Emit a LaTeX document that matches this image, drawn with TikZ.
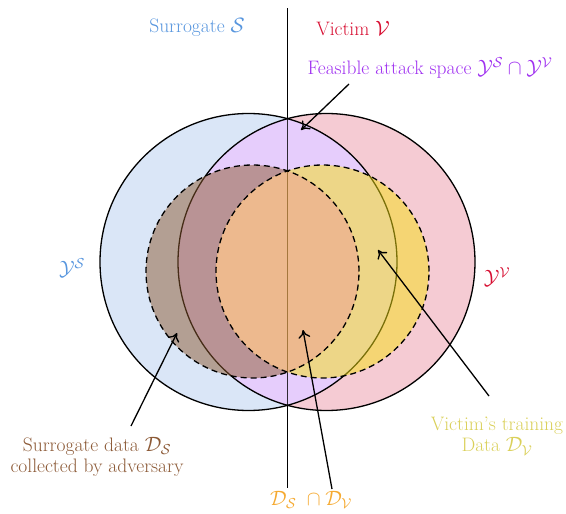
\documentclass[tikz,border=0pt]{standalone}
\usetikzlibrary{arrows.meta}
\definecolor{fblue}{RGB}{218,230,247}
\definecolor{fpink}{RGB}{245,203,211}
\definecolor{flav}{RGB}{230,205,252}
\definecolor{fbrown}{RGB}{141,90,48}
\definecolor{fyellow}{RGB}{245,224,20}
\definecolor{forange}{RGB}{243,172,69}
\definecolor{cblue}{RGB}{88,150,222}
\definecolor{cred}{RGB}{215,15,50}
\definecolor{cpurple}{RGB}{160,50,240}
\definecolor{cbrown}{RGB}{140,90,55}
\definecolor{cyellow}{RGB}{218,208,90}
\definecolor{corange}{RGB}{245,170,50}
\tikzset{
  outline/.style={draw=black, line width=1.3pt},
  dset/.style={draw=black, line width=1.3pt, dash pattern=on 6pt off 4pt},
  pointer/.style={draw=black, line width=1.3pt, -{Computer Modern Rightarrow[length=8pt,width=12pt]}},
  lbl/.style={inner sep=1pt, align=center}
}
\begin{document}
\begin{tikzpicture}[x=1pt,y=-1pt,font=\fontsize{19.5}{21.5}\selectfont]
\useasboundingbox (0,0) rectangle (566,514);
\def\LS{(248.5,262) circle[radius=148.5pt]}
\def\RV{(326.5,262) circle[radius=148.5pt]}
\def\DS{(252.5,271.5) circle[radius=106.5pt]}
\def\DV{(322.5,271.5) circle[radius=106.5pt]}
% base fills
\fill[fblue] \LS;
\fill[fpink] \RV;
\begin{scope}
  \clip \LS;
  \fill[flav] \RV;
\end{scope}
% vertical divider
\coordinate (vtop) at (287.5,8);
\coordinate (vbot) at (287.5,488);
\draw[line width=1.4pt] (vtop) -- (vbot);
\begin{scope}
  \clip \LS;
  \clip \RV;
  \draw[line width=1.4pt, black!80!flav] (vtop) -- (vbot);
\end{scope}
% big circle outlines
\draw[outline] \LS;
\draw[outline] \RV;
% data sets
\begin{scope}
  \clip \DS;
  \fill[fbrown, opacity=0.5, even odd rule] \DS \DV;
\end{scope}
\begin{scope}
  \clip \DV;
  \fill[fyellow, opacity=0.5, even odd rule] \DS \DV;
\end{scope}
\begin{scope}
  \clip \DS;
  \fill[forange, opacity=0.6] \DV;
\end{scope}
\draw[dset] \DS;
\draw[dset] \DV;
% labels
\node[lbl, text=cblue] (surr) at (197,27) {Surrogate $\mathcal{S}$};
\node[lbl, text=cred] (vict) at (353,29) {Victim $\mathcal{V}$};
\node[lbl, text=cpurple] (feas) at (430,68) {Feasible attack space $\mathcal{Y}^{\mathcal{S}}\cap\mathcal{Y}^{\mathcal{V}}$};
\node[lbl, text=cblue] (ys) at (72,268) {$\mathcal{Y}^{\mathcal{S}}$};
\node[lbl, text=cred] (yv) at (497,277) {$\mathcal{Y}^{\mathcal{V}}$};
\node[lbl, text=cbrown] (sdata) at (97,457) {Surrogate data $\mathcal{D}_{\mathcal{S}}$\\collected by adversary};
\node[lbl, text=cyellow] (vdata) at (497,436) {Victim's training\\Data $\mathcal{D}_{\mathcal{V}}$};
\node[lbl, text=corange] (inter) at (311,500) {$\mathcal{D}_{\mathcal{S}}\;\cap\mathcal{D}_{\mathcal{V}}$};
% arrows
\coordinate (fa) at (349,84);
\coordinate (fb) at (301,130);
\coordinate (sa) at (131,426);
\coordinate (sb) at (177,333);
\coordinate (ia) at (332,489);
\coordinate (ib) at (303,330);
\coordinate (va) at (489,396);
\coordinate (vb) at (378,250);
\draw[pointer] (fa) -- (fb);
\draw[pointer] (sa) -- (sb);
\draw[pointer] (ia) -- (ib);
\draw[pointer] (va) -- (vb);
\end{tikzpicture}
\end{document}
